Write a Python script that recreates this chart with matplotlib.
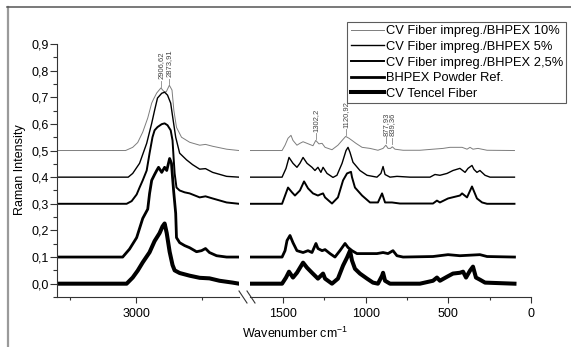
import matplotlib
matplotlib.use("Agg")
from matplotlib import pyplot as plt
from matplotlib.ticker import MultipleLocator, FuncFormatter
from matplotlib.lines import Line2D

plt.rcParams["font.family"] = ["Liberation Sans", "DejaVu Sans"]
plt.rcParams["mathtext.fontset"] = "custom"
plt.rcParams["mathtext.rm"] = "Liberation Sans"
plt.rcParams["mathtext.default"] = "regular"

names = ["CV Fiber impreg./BHPEX 10%", "CV Fiber impreg./BHPEX 5%",
         "CV Fiber impreg./BHPEX 2,5%", "BHPEX Powder Ref.", "CV Tencel Fiber"]
colors = ["#7d7d7d", "black", "black", "black", "black"]
widths = [0.7, 1.0, 1.4, 2.0, 2.9]

# C-H region (left part of the broken axis), stacked values as drawn
hi_wn_10 = [3300, 3040, 3013, 2994, 2975, 2956, 2941, 2934, 2922, 2906, 2895, 2886,
            2874, 2864, 2857, 2847, 2828, 2797, 2759, 2737, 2710, 2657, 2610]
hi_10 = [0.50, 0.50, 0.512, 0.530, 0.569, 0.622, 0.678, 0.693, 0.716, 0.735, 0.722, 0.72,
         0.745, 0.727, 0.651, 0.587, 0.550, 0.531, 0.520, 0.523, 0.516, 0.505, 0.50]

hi_wn_5 = [3300, 3030, 3013, 2987, 2960, 2941, 2930, 2919, 2903, 2892, 2881, 2869,
           2862, 2850, 2835, 2809, 2786, 2759, 2737, 2710, 2657, 2610]
hi_5 = [0.40, 0.40, 0.414, 0.452, 0.527, 0.602, 0.651, 0.697, 0.715, 0.719, 0.708, 0.678,
        0.63, 0.55, 0.49, 0.465, 0.447, 0.43, 0.432, 0.418, 0.403, 0.40]

hi_wn_25 = [3300, 3036, 3017, 2998, 2987, 2975, 2960, 2949, 2938, 2930, 2919, 2903, 2892,
            2881, 2869, 2862, 2858, 2854, 2847, 2835, 2816, 2797, 2759, 2737, 2710, 2657, 2610]
hi_25 = [0.30, 0.30, 0.31, 0.335, 0.361, 0.388, 0.425, 0.49, 0.550, 0.576, 0.588, 0.599, 0.602,
         0.595, 0.576, 0.538, 0.474, 0.414, 0.361, 0.35, 0.343, 0.339, 0.324, 0.328, 0.32, 0.305, 0.30]

hi_wn_bh = [3300, 3051, 3025, 2998, 2975, 2956, 2949, 2941, 2930, 2922, 2915, 2903, 2892, 2884,
            2873, 2866, 2862, 2858, 2850, 2847, 2835, 2816, 2797, 2771, 2752, 2737, 2722, 2695,
            2657, 2610]
hi_bh = [0.10, 0.10, 0.13, 0.173, 0.245, 0.28, 0.339, 0.388, 0.41, 0.425, 0.437, 0.418, 0.437, 0.425,
         0.47, 0.452, 0.40, 0.35, 0.264, 0.173, 0.154, 0.143, 0.135, 0.12, 0.124, 0.132, 0.117, 0.105,
         0.10, 0.10]

hi_wn_tc = [3300, 3036, 3013, 2994, 2975, 2949, 2930, 2911, 2900, 2892, 2884, 2873, 2862, 2854,
            2835, 2797, 2759, 2722, 2684, 2634, 2610]
hi_tc = [0.0, 0.0, 0.023, 0.049, 0.08, 0.118, 0.16, 0.19, 0.215, 0.226, 0.19, 0.12, 0.07, 0.05,
         0.04, 0.03, 0.022, 0.02, 0.011, 0.004, 0.0]

# fingerprint region (right part)
lo_wn_10 = [1700, 1506, 1488, 1470, 1452, 1440, 1416, 1398, 1379, 1355, 1319, 1302, 1283, 1264, 1246,
            1204, 1168, 1137, 1121, 1101, 1083, 1059, 1022, 974, 926, 895, 878, 865, 850, 839,
            823, 774, 672, 593, 532, 490, 417, 387, 369, 351, 321, 266, 100]
lo_10 = [0.50, 0.50, 0.52, 0.546, 0.557, 0.538, 0.52, 0.527, 0.533, 0.527, 0.518, 0.538, 0.525, 0.527, 0.512,
         0.503, 0.52, 0.542, 0.553, 0.546, 0.538, 0.527, 0.512, 0.508, 0.501, 0.508, 0.52, 0.508, 0.508, 0.514,
         0.505, 0.501, 0.501, 0.505, 0.508, 0.512, 0.512, 0.505, 0.512, 0.505, 0.508, 0.501, 0.50]

lo_wn_5 = [1700, 1506, 1482, 1464, 1440, 1416, 1398, 1379, 1355, 1325, 1307, 1289, 1271, 1258, 1234,
           1198, 1174, 1143, 1119, 1107, 1095, 1077, 1035, 992, 932, 908, 895, 883, 853, 811,
           732, 611, 581, 551, 508, 472, 430, 399, 381, 357, 345, 327, 309, 278, 248, 100]
lo_5 = [0.40, 0.40, 0.433, 0.474, 0.452, 0.437, 0.452, 0.474, 0.452, 0.437, 0.425, 0.437, 0.418, 0.437, 0.414,
        0.399, 0.407, 0.452, 0.50, 0.512, 0.493, 0.456, 0.425, 0.407, 0.40, 0.414, 0.44, 0.41, 0.40, 0.403,
        0.40, 0.40, 0.41, 0.407, 0.414, 0.425, 0.433, 0.418, 0.433, 0.444, 0.429, 0.418, 0.425, 0.407, 0.40, 0.40]

lo_wn_25 = [1700, 1506, 1470, 1446, 1428, 1398, 1373, 1349, 1319, 1289, 1275, 1258, 1246, 1204, 1168,
            1137, 1113, 1089, 1083, 1065, 1022, 974, 926, 901, 883, 841, 793, 593, 569, 551,
            502, 430, 417, 387, 357, 327, 296, 266, 100]
lo_25 = [0.30, 0.30, 0.361, 0.343, 0.331, 0.35, 0.384, 0.358, 0.339, 0.331, 0.335, 0.339, 0.324, 0.301, 0.324,
         0.388, 0.414, 0.42, 0.40, 0.361, 0.331, 0.305, 0.305, 0.339, 0.305, 0.305, 0.301, 0.301, 0.312, 0.305,
         0.32, 0.331, 0.339, 0.324, 0.365, 0.32, 0.305, 0.30, 0.30]

lo_wn_bh = [1700, 1506, 1488, 1476, 1458, 1440, 1416, 1379, 1349, 1325, 1301, 1289, 1264, 1246, 1216,
            1186, 1156, 1125, 1107, 1083, 1053, 1016, 932, 895, 865, 835, 811, 774, 593, 502,
            430, 309, 266, 100]
lo_bh = [0.10, 0.10, 0.124, 0.162, 0.181, 0.154, 0.124, 0.117, 0.124, 0.117, 0.151, 0.132, 0.124, 0.128, 0.113,
         0.10, 0.124, 0.151, 0.136, 0.124, 0.113, 0.113, 0.113, 0.117, 0.113, 0.124, 0.105, 0.10, 0.102, 0.109,
         0.105, 0.109, 0.102, 0.10]

lo_wn_tc = [1700, 1506, 1482, 1464, 1440, 1416, 1379, 1355, 1325, 1289, 1258, 1246, 1204, 1168, 1137,
            1113, 1095, 1083, 1065, 1035, 992, 956, 926, 901, 895, 883, 853, 672, 593, 569,
            551, 508, 472, 430, 411, 393, 369, 351, 333, 309, 278, 100]
lo_tc = [0.0, 0.0, 0.023, 0.045, 0.023, 0.041, 0.079, 0.06, 0.041, 0.019, 0.038, 0.019, 0.0, 0.019, 0.068,
         0.098, 0.124, 0.087, 0.056, 0.038, 0.019, 0.004, 0.0, 0.03, 0.041, 0.011, 0.0, 0.0, 0.011, 0.023,
         0.011, 0.026, 0.038, 0.041, 0.045, 0.023, 0.049, 0.064, 0.023, 0.015, 0.004, 0.0]

hi_series = [(hi_wn_10, hi_10), (hi_wn_5, hi_5), (hi_wn_25, hi_25), (hi_wn_bh, hi_bh), (hi_wn_tc, hi_tc)]
lo_series = [(lo_wn_10, lo_10), (lo_wn_5, lo_5), (lo_wn_25, lo_25), (lo_wn_bh, lo_bh), (lo_wn_tc, lo_tc)]

# peak labels: text, position, bottom of the small marker line
hi_peaks = ["2906,62", "2873,91"]
hi_peak_y = [0.740, 0.748]
lo_peaks = ["1302,2", "1120,92", "877,93", "839,36"]
lo_peak_y = [0.543, 0.557, 0.528, 0.526]

fig = plt.figure(figsize=(5.71, 3.47), dpi=100)
ax1 = fig.add_axes([57 / 571, 0.1441, 182 / 571, 0.7291])
ax2 = fig.add_axes([250 / 571, 0.1441, 281 / 571, 0.7291])

lines = []
for i in range(5):
    ax1.plot(*hi_series[i], color=colors[i], lw=widths[i], solid_joinstyle="round")
    l, = ax2.plot(*lo_series[i], color=colors[i], lw=widths[i], solid_joinstyle="round")
    lines.append(l)

for ax in (ax1, ax2):
    ax.set_ylim(-0.05, 0.9)
    ax.set_facecolor("none")
    for s in ("top", "right"):
        ax.spines[s].set_visible(False)
    ax.spines["bottom"].set_color("#333333")
    ax.spines["left"].set_color("#333333")
    ax.xaxis.set_major_locator(MultipleLocator(500))
    ax.xaxis.set_minor_locator(MultipleLocator(250))
    ax.tick_params(axis="x", which="major", direction="out", length=4, width=0.8,
                   color="#333333", labelsize=9, pad=4)
    ax.tick_params(axis="x", which="minor", direction="out", length=2.5, width=0.8, color="#333333")

ax1.set_xlim(3300, 2610)
ax2.set_xlim(1700, 0)
ax1.xaxis.set_major_locator(MultipleLocator(1000))
ax1.yaxis.set_major_locator(MultipleLocator(0.1))
ax1.yaxis.set_minor_locator(MultipleLocator(0.05))
ax1.yaxis.set_major_formatter(FuncFormatter(lambda v, p: f"{v:.1f}".replace(".", ",")))
ax1.tick_params(axis="y", which="major", direction="out", length=5, width=0.8,
                color="#333333", labelsize=9, pad=1)
ax1.tick_params(axis="y", which="minor", direction="out", length=3, width=0.8, color="#333333")

ax2.spines["left"].set_visible(False)
ax2.tick_params(axis="y", which="both", left=False, labelleft=False)

# peak markers
for ax, labels, ys in ((ax1, hi_peaks, hi_peak_y), (ax2, lo_peaks, lo_peak_y)):
    for lab, y in zip(labels, ys):
        x = float(lab.replace(",", "."))
        ax.plot([x, x], [y, y + 0.022], color="#888888", lw=0.6)
        ax.text(x, y + 0.028, lab, rotation=90, ha="center", va="bottom",
                fontsize=5.5, color="#444444")

# axis break marks
b1 = ax1.get_position()
h = 12 / 347
for dx in (0, 8 / 571):
    x0 = b1.x1 + dx
    fig.add_artist(Line2D([x0, x0 + 8 / 571], [b1.y0 + h / 2, b1.y0 - h / 2],
                          transform=fig.transFigure, color="#333333", lw=0.8))

fig.text(20 / 571, 1 - 170 / 347, "Raman Intensity", rotation=90, ha="center", va="center", fontsize=9)
fig.text(295 / 571, 1 - 333 / 347, "Wavenumber cm$^{-1}$", ha="center", va="center", fontsize=9)

leg = fig.legend(lines, names, loc="upper right", bbox_to_anchor=(566 / 571, 1 - 22 / 347),
                 bbox_transform=fig.transFigure, fontsize=9.3, frameon=True, fancybox=False,
                 borderpad=0.25, labelspacing=0.28, handlelength=2.6, handletextpad=0.1,
                 borderaxespad=0)
leg.get_frame().set_edgecolor("#333333")
leg.get_frame().set_linewidth(0.8)

# outer frame of the original figure
fig.add_artist(Line2D([8 / 571, 8 / 571], [0, 1 - 7 / 347], transform=fig.transFigure,
                      color="#9a9a9a", lw=1.6))
fig.add_artist(Line2D([7 / 571, 1], [1 - 7 / 347, 1 - 7 / 347], transform=fig.transFigure,
                      color="#555555", lw=1.1))

fig.savefig("out.png", dpi=100)
